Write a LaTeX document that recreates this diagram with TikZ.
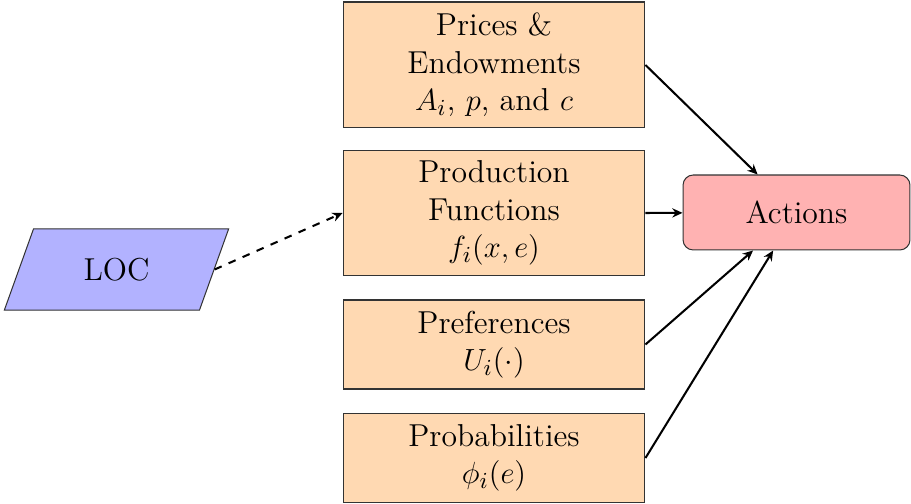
\documentclass[tikz,border=0pt]{standalone}
\usetikzlibrary{shapes.geometric,arrows.meta}
\begin{document}
\begin{tikzpicture}[x=0.39216pt,y=-0.39216pt,
  bigfont/.style={font=\fontsize{12.43}{14.7}\selectfont},
  boxnode/.style={draw=black!80, fill=orange!30, align=center, bigfont,
    minimum width=118.4pt, inner sep=2pt},
  tall/.style={minimum height=49.4pt},
  short/.style={minimum height=34.9pt},
  actnode/.style={draw=black!80, fill=red!30, rounded corners=4pt, bigfont,
    minimum width=89pt, minimum height=29.4pt},
  locnode/.style={draw=black!80, fill=blue!30, trapezium, trapezium left angle=70,
    trapezium right angle=110, trapezium stretches=true, bigfont,
    minimum width=88.2pt, minimum height=31.8pt},
  arr/.style={thick, -{Stealth[length=4pt,width=3.6pt,inset=1.3pt]}},
  ]
\useasboundingbox (0,0) rectangle (911,504);
\node[boxnode,tall] (prices) at (494,65) {Prices \&\\Endowments\\$A_i$, $p$, and $c$};
\node[boxnode,tall] (prod) at (494,213) {Production\\Functions\\$f_i(x,e)$};
\node[boxnode,short] (pref) at (494,344.5) {Preferences\\$U_i(\cdot)$};
\node[boxnode,short] (prob) at (494,458) {Probabilities\\$\phi_i(e)$};
\node[actnode] (act) at (796.5,212.5) {Actions};
\node[locnode] (loc) at (116.5,269.5) {LOC};
\draw[arr] (prices.east) -- (act);
\draw[arr] (prod.east) -- (act);
\draw[arr] (pref.east) -- (act);
\draw[arr] (prob.east) -- (act);
\draw[arr, dashed] (loc.east) -- (prod.west);
\end{tikzpicture}
\end{document}
